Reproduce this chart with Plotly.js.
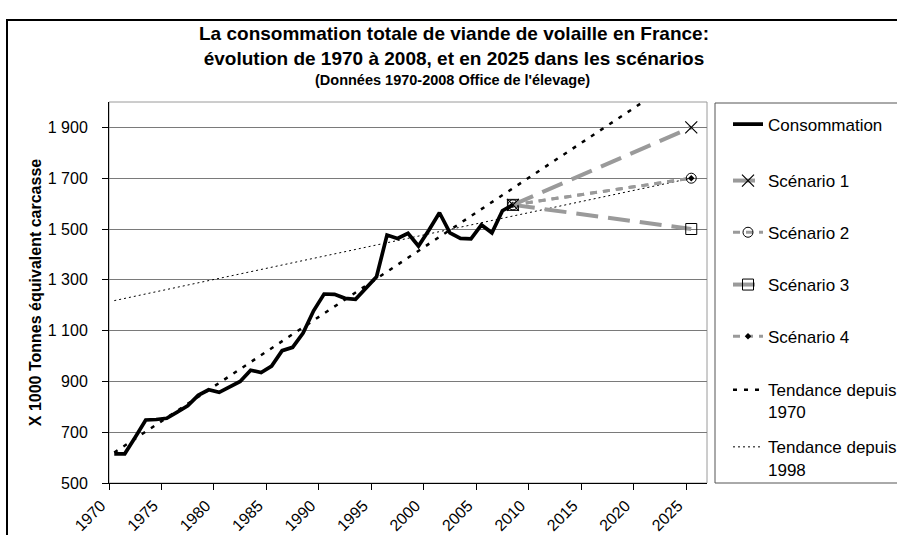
<!DOCTYPE html>
<html>
<head>
<meta charset="utf-8">
<script src="https://cdn.plot.ly/plotly-3.0.1.min.js"></script>
<style>
html,body{margin:0;padding:0;background:#fff;}
#chart{width:897px;height:535px;}
</style>
</head>
<body>
<div id="chart"></div>
<script>
// ---- data ----
const years = [1970,1971,1972,1973,1974,1975,1976,1977,1978,1979,1980,1981,1982,1983,1984,1985,1986,1987,1988,1989,1990,1991,1992,1993,1994,1995,1996,1997,1998,1999,2000,2001,2002,2003,2004,2005,2006,2007,2008];
const consommation = [615,615,680,748,750,755,779,804,845,867,857,880,900,944,935,960,1021,1034,1090,1178,1244,1243,1227,1223,1265,1312,1476,1463,1483,1433,1496,1564,1485,1463,1461,1516,1485,1572,1595];

const scenarioYears = [2008, 2025];
const scenario1 = [1595, 1900];
const scenario2 = [1595, 1700];
const scenario3 = [1595, 1500];
const scenario4 = [1595, 1700];

const trend1970Years = [1970, 2020.4];
const trend1970 = [620, 2000];
const trend1998Years = [1970, 2025];
const trend1998 = [1218, 1700];

const xTickVals = [1969.5,1974.5,1979.5,1984.5,1989.5,1994.5,1999.5,2004.5,2009.5,2014.5,2019.5,2024.5];
const xTickText = ['1970','1975','1980','1985','1990','1995','2000','2005','2010','2015','2020','2025'];
const yTickVals = [500,700,900,1100,1300,1500,1700,1900];
const yTickText = ['500','700','900','1 100','1 300','1 500','1 700','1 900'];

const seriesNames = ['Consommation','Scénario 1','Scénario 2','Scénario 3','Scénario 4','Tendance depuis<br>1970','Tendance depuis<br>1998'];

// ---- layout helpers (pixel -> paper) ----
const W = 897, H = 535;
const M = {l:109, r:190, t:102, b:52};
const PW = W - M.l - M.r, PH = H - M.t - M.b;
const px = x => (x - M.l) / PW;
const py = y => (H - M.b - y) / PH;

const FONT = 'Liberation Sans, Arial, Helvetica, sans-serif';
const GREY = '#9a9a9a';

const traces = [
  {x: trend1998Years, y: trend1998, name: seriesNames[6], mode:'lines',
   line:{color:'#000', width:1, dash:'2px,3px'}, legend:'legend7'},
  {x: trend1970Years, y: trend1970, name: seriesNames[5], mode:'lines',
   line:{color:'#000', width:2.5, dash:'4px,7px'}, legend:'legend6'},
  {x: scenarioYears, y: scenario4, name: seriesNames[4], mode:'lines+markers',
   line:{color:GREY, width:3, dash:'7px,6px'},
   marker:{symbol:'diamond', size:5, color:'#000'}, legend:'legend5'},
  {x: scenarioYears, y: scenario3, name: seriesNames[3], mode:'lines+markers',
   line:{color:GREY, width:4, dash:'22px,10px'},
   marker:{symbol:'square-open', size:11, color:'#000', line:{width:1}}, legend:'legend4'},
  {x: scenarioYears, y: scenario2, name: seriesNames[2], mode:'lines+markers',
   line:{color:GREY, width:3, dash:'7px,6px'},
   marker:{symbol:'circle-open', size:10, color:'#000', line:{width:1}}, legend:'legend3'},
  {x: scenarioYears, y: scenario1, name: seriesNames[1], mode:'lines+markers',
   line:{color:GREY, width:4, dash:'22px,10px'},
   marker:{symbol:'x-thin-open', size:12, color:'#000', line:{width:1.2}}, legend:'legend2'},
  {x: years, y: consommation, name: seriesNames[0], mode:'lines',
   line:{color:'#000', width:3.7}, legend:'legend'}
];

function leg(yCenterPx, twoLine){
  return {
    x: px(728), xanchor:'left',
    y: py(yCenterPx), yanchor:'middle',
    bgcolor:'rgba(0,0,0,0)', borderwidth:0,
    font:{family:FONT, size:17, color:'#000'},
    valign: twoLine ? 'top' : 'middle'
  };
}

const layout = {
  width: W, height: H,
  margin: {l:M.l, r:M.r, t:M.t, b:M.b, autoexpand:false},
  paper_bgcolor:'#fff', plot_bgcolor:'#fff',
  showlegend:true,
  title: {
    text: 'La consommation totale de viande de volaille en France:<br>évolution de 1970 à 2008, et en 2025 dans les scénarios',
    font: {family:FONT, size:19, color:'#000', weight:'bold'},
    x: 454/W, xanchor:'center', xref:'container',
    y: 1 - 40/H, yanchor:'top', yref:'container'
  },
  xaxis: {
    range:[1969.5, 2026.5],
    tickmode:'array', tickvals:xTickVals, ticktext:xTickText,
    tickangle:-45, ticks:'outside', ticklen:6, tickcolor:'#000',
    ticklabelshift:-8,
    showline:true, linecolor:'#000', linewidth:1,
    showgrid:false, zeroline:false,
    tickfont:{family:FONT, size:16, color:'#000'}
  },
  yaxis: {
    range:[500, 2000],
    tickmode:'array', tickvals:yTickVals, ticktext:yTickText,
    ticks:'outside', ticklen:6, tickcolor:'#000',
    ticklabelstandoff: 11,
    showline:true, linecolor:'#000', linewidth:1,
    showgrid:true, gridcolor:'#7a7a7a', gridwidth:1, zeroline:false,
    tickfont:{family:FONT, size:16, color:'#000'},
    title:{text:'X 1000 Tonnes équivalent carcasse', standoff:2,
      font:{family:FONT, size:16, color:'#000', weight:'bold'}}
  },
  legend: leg(124.5,false),
  legend2: leg(181,false),
  legend3: leg(232.7,false),
  legend4: leg(285,false),
  legend5: leg(336.7,false),
  legend6: leg(401.2,true),
  legend7: leg(458.3,true),
  annotations: [{
    text:'(Données 1970-2008 Office de l\'élevage)',
    xref:'paper', yref:'paper', x: px(453), y: py(80),
    xanchor:'center', yanchor:'middle', showarrow:false,
    font:{family:FONT, size:14.5, color:'#000', weight:'bold'}
  }],
  shapes: [
    {type:'rect', xref:'paper', yref:'paper', x0:0, x1:1, y0:0, y1:1,
     line:{color:'#9a9a9a', width:1}, layer:'below'},
    {type:'rect', xref:'paper', yref:'paper', x0:px(715), x1:px(1000), y0:py(483), y1:py(103),
     line:{color:'#555', width:1}, fillcolor:'rgba(0,0,0,0)'},
    {type:'rect', xref:'paper', yref:'paper', x0:px(7), x1:px(1000), y0:py(600), y1:py(20),
     line:{color:'#000', width:2}, fillcolor:'rgba(0,0,0,0)'}
  ]
};

Plotly.newPlot('chart', traces, layout, {displayModeBar:false, staticPlot:true});
</script>
</body>
</html>
